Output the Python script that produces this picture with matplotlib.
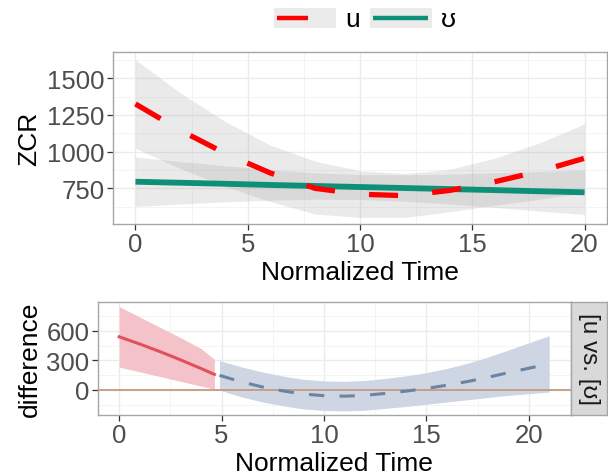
import matplotlib
matplotlib.use("Agg")
import matplotlib.pyplot as plt
from matplotlib.patches import Rectangle
from matplotlib.lines import Line2D

plt.rcParams['font.family'] = ['Liberation Sans', 'DejaVu Sans']

# ---- top panel: smoothed ZCR per vowel ----
t_top = [0, 2, 4, 6, 8, 10, 12, 14, 16, 18, 20]
u_mean = [1325, 1145, 988, 855, 750, 710, 700, 736, 795, 866, 955]
u_upper = [1627, 1400, 1205, 1045, 935, 870, 850, 880, 955, 1060, 1189]
u_lower = [1023, 885, 763, 660, 575, 552, 552, 590, 635, 675, 721]
oo_mean = [795, 788, 781, 773, 766, 759, 752, 745, 738, 730, 723]
oo_upper = [963, 933, 904, 877, 856, 844, 842, 847, 856, 865, 875]
oo_lower = [627, 643, 658, 669, 676, 674, 662, 643, 620, 595, 571]

# ---- bottom panel: difference smooth ----
t_sig = [0, 1, 2, 3, 4, 4.65]
sig_mean = [539, 466, 388, 305, 217, 158]
sig_upper = [845, 740, 635, 530, 420, 310]
sig_lower = [232, 184, 136, 87, 39, 8]
t_ns = [4.9, 6, 7, 8, 9, 10, 11, 12, 13, 14, 15, 16, 17, 18, 19, 20, 21]
ns_mean = [148, 80, 30, -10, -42, -58, -63, -55, -35, -12, 15, 48, 85, 128, 175, 220, 265]
ns_upper = [298, 232, 182, 141, 108, 92, 87, 96, 117, 143, 175, 218, 270, 333, 405, 477, 551]
ns_lower = [-2, -72, -122, -161, -192, -208, -213, -206, -187, -167, -145, -122, -100, -77, -55, -37, -21]

labels = ["u", "ʊ"]
colors = ["#ff0000", "#0e8f78"]
strip_label = "[u vs. [ʊ]"

W, H = 608, 477
fig = plt.figure(figsize=(W / 100, H / 100), dpi=100)


def style_axes(ax, xmajor, xminor, ymajor, yminor):
    ax.set_xticks(xmajor)
    ax.set_xticks(xminor, minor=True)
    ax.set_yticks(ymajor)
    ax.set_yticks(yminor, minor=True)
    ax.grid(which="major", color="#ebebeb", lw=1.0, zorder=0)
    ax.grid(which="minor", color="#f3f3f3", lw=0.6, zorder=0)
    ax.set_axisbelow(True)
    for s in ax.spines.values():
        s.set_color("#a6a6a6")
        s.set_linewidth(1.0)
    ax.tick_params(which="major", length=4, width=0.9, color="#333333",
                   labelcolor="#4d4d4d", labelsize=18.5, pad=2)
    ax.tick_params(which="minor", length=0)


# top
ax1 = fig.add_axes([113 / W, 1 - 225 / H, 494 / W, 172 / H])
ax1.fill_between(t_top, u_lower, u_upper, color="#999999", alpha=0.2, lw=0, zorder=1)
ax1.fill_between(t_top, oo_lower, oo_upper, color="#999999", alpha=0.2, lw=0, zorder=1)
ax1.plot(t_top, oo_mean, color=colors[1], lw=4.2, solid_capstyle="butt", zorder=3)
ax1.plot(t_top, u_mean, color=colors[0], lw=3.8, dashes=(5.5, 6.5),
         dash_capstyle="butt", zorder=4)
ax1.set_xlim(-1, 21)
ax1.set_ylim(507, 1679)
style_axes(ax1, [0, 5, 10, 15, 20], [2.5, 7.5, 12.5, 17.5],
           [750, 1000, 1250, 1500], [625, 875, 1125, 1375, 1625])
ax1.set_xlabel("Normalized Time", fontsize=19, labelpad=3)
ax1.set_ylabel("ZCR", fontsize=19, labelpad=4)

# legend drawn by hand (ggplot-style keys with grey background)
lg = fig.add_axes([0, 1 - 30 / H, 1, 22 / H])
lg.set_xlim(0, W)
lg.set_ylim(0, 22)
lg.axis("off")
key_ends = [34, 58]
for x0, x1, lab, c in zip([274, 370], key_ends, labels, colors):
    lg.add_patch(Rectangle((x0, 1), 62, 20, color="#ebebeb", lw=0))
    lg.add_line(Line2D([x0 + 3, x0 + x1], [11, 11], color=c, lw=3.2, solid_capstyle="butt"))
    lg.text(x0 + 71, 10, lab, fontsize=19, va="center", ha="left")

# bottom
ax2 = fig.add_axes([97.7 / W, 1 - 416 / H, 473 / W, 113.3 / H])
ax2.axhline(0, color="#c49a80", lw=1.3, zorder=2)
ax2.fill_between(t_sig, sig_lower, sig_upper, color="#f4c3c9", lw=0, zorder=1)
ax2.fill_between(t_ns, ns_lower, ns_upper, color="#cdd6e2", lw=0, zorder=1)
ax2.plot(t_sig, sig_mean, color="#e2505d", lw=2.2, zorder=3)
ax2.plot(t_ns, ns_mean, color="#6a84a4", lw=2.2, dashes=(5, 5), zorder=3)
ax2.set_xlim(-1.05, 22.05)
ax2.set_ylim(-254, 895)
style_axes(ax2, [0, 5, 10, 15, 20], [2.5, 7.5, 12.5, 17.5],
           [0, 300, 600], [-150, 150, 450, 750])
ax2.set_xlabel("Normalized Time", fontsize=19, labelpad=3)
ax2.set_ylabel("difference", fontsize=19, labelpad=3)

# facet strip
st = fig.add_axes([571 / W, 1 - 416 / H, 36 / W, 113.3 / H])
st.set_facecolor("#d9d9d9")
st.set_xticks([])
st.set_yticks([])
for s in st.spines.values():
    s.set_color("#a6a6a6")
    s.set_linewidth(1.0)
st.text(0.5, 0.5, strip_label, rotation=-90, fontsize=17.5, color="#1a1a1a",
        ha="center", va="center", transform=st.transAxes)

fig.savefig("out.png", dpi=100)
